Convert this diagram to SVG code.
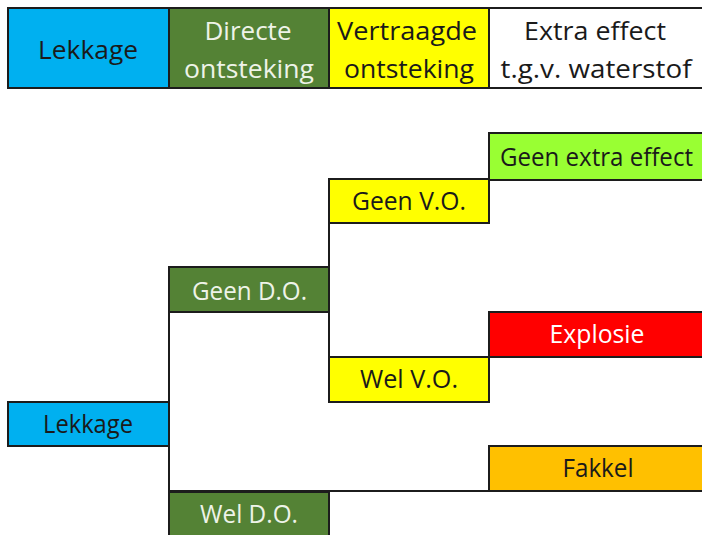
<svg xmlns="http://www.w3.org/2000/svg" width="702" height="535" viewBox="0 0 702 535">
<style>
.b{stroke:#1c1c1c;stroke-width:2}
.t{font-family:"Open Sans",sans-serif;font-size:25px;text-anchor:middle}
.d{fill:#1a1a1a}
.l{fill:#eef3e8}
.w{fill:#ffffff}
.c{stroke:#1c1c1c;stroke-width:2;fill:none}
</style>
<rect width="702" height="535" fill="#ffffff"/>
<g id="header">
<g id="h-lekkage"><rect class="b" x="8" y="8" width="161" height="80" fill="#00b0f0"/><text class="t d" x="88" y="59" font-size="28" textLength="100" lengthAdjust="spacingAndGlyphs">Lekkage</text></g>
<g id="h-directe"><rect class="b" x="169" y="8" width="160" height="80" fill="#548235"/><text class="t l" x="248" y="40" textLength="87" lengthAdjust="spacingAndGlyphs">Directe</text><text class="t l" x="249" y="78" textLength="130" lengthAdjust="spacingAndGlyphs">ontsteking</text></g>
<g id="h-vertraagde"><rect class="b" x="329" y="8" width="160" height="80" fill="#ffff00"/><text class="t d" x="407" y="40" textLength="140" lengthAdjust="spacingAndGlyphs">Vertraagde</text><text class="t d" x="409" y="78" textLength="130" lengthAdjust="spacingAndGlyphs">ontsteking</text></g>
<g id="h-extra"><path class="b" d="M703 8 H489 V88 H703" fill="#ffffff"/><text class="t d" x="595" y="40" textLength="142" lengthAdjust="spacingAndGlyphs">Extra effect</text><text class="t d" x="596" y="78" textLength="191" lengthAdjust="spacingAndGlyphs">t.g.v. waterstof</text></g>
</g>
<g id="connectors">
<line class="c" x1="169" y1="312" x2="169" y2="492"/>
<line class="c" x1="169" y1="491" x2="489" y2="491"/>
<line class="c" x1="329" y1="223" x2="329" y2="357"/>
<line class="c" x1="489" y1="179" x2="489" y2="180"/>
</g>
<g id="n-lekkage"><rect class="b" x="8" y="402" width="161" height="44" fill="#00b0f0"/><text class="t d" x="88" y="433" textLength="90" lengthAdjust="spacingAndGlyphs">Lekkage</text></g>
<g id="n-geen-do"><rect class="b" x="169" y="267" width="160" height="45" fill="#548235"/><text class="t l" x="249.5" y="300" textLength="115" lengthAdjust="spacingAndGlyphs">Geen D.O.</text></g>
<g id="n-wel-do"><rect class="b" x="169" y="492" width="160" height="50" fill="#548235"/><text class="t l" x="249" y="523" textLength="98" lengthAdjust="spacingAndGlyphs">Wel D.O.</text></g>
<g id="n-geen-vo"><rect class="b" x="329" y="179" width="160" height="44" fill="#ffff00"/><text class="t d" x="409" y="210" textLength="114" lengthAdjust="spacingAndGlyphs">Geen V.O.</text></g>
<g id="n-wel-vo"><rect class="b" x="329" y="357" width="160" height="45" fill="#ffff00"/><text class="t d" x="409" y="388" textLength="98" lengthAdjust="spacingAndGlyphs">Wel V.O.</text></g>
<g id="n-geen-extra"><path class="b" d="M703 133 H489 V180 H703" fill="#99ff33"/><text class="t d" x="596.5" y="166" textLength="193" lengthAdjust="spacingAndGlyphs">Geen extra effect</text></g>
<g id="n-explosie"><path class="b" d="M703 312 H489 V357 H703" fill="#ff0000"/><text class="t w" x="597" y="343" textLength="95" lengthAdjust="spacingAndGlyphs">Explosie</text></g>
<g id="n-fakkel"><path class="b" d="M703 446 H489 V491 H703" fill="#ffc000"/><text class="t d" x="598" y="477" textLength="71" lengthAdjust="spacingAndGlyphs">Fakkel</text></g>
</svg>
